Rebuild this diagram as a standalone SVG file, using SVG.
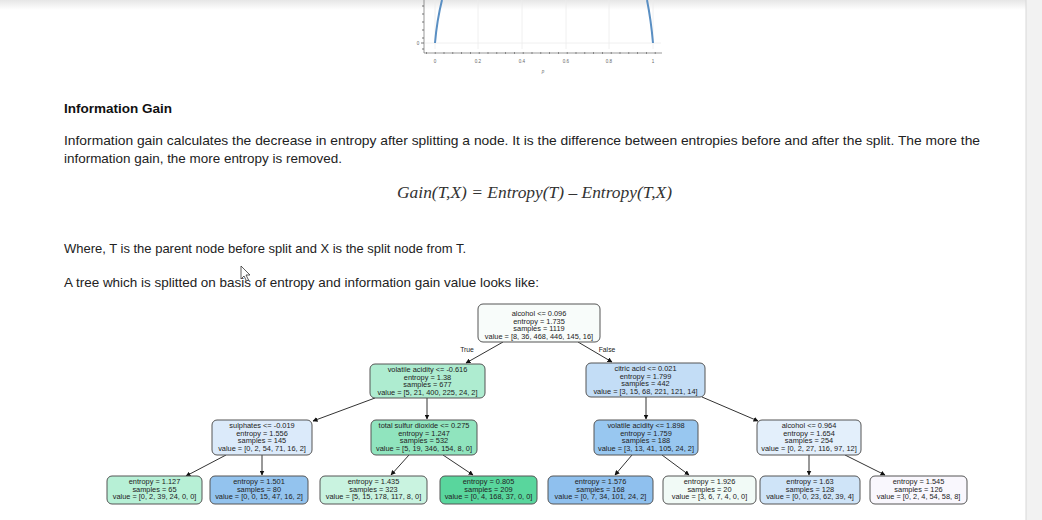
<svg xmlns="http://www.w3.org/2000/svg" width="1042" height="520" viewBox="0 0 1042 520">
<defs>
<linearGradient id="topshade" x1="0" y1="0" x2="0" y2="1"><stop offset="0" stop-color="#e6e6e6"/><stop offset="1" stop-color="#ffffff"/></linearGradient>
<marker id="ah" viewBox="0 0 10 10" refX="9" refY="5" markerWidth="5" markerHeight="5" orient="auto"><path d="M0,0 L10,5 L0,10 z" fill="#111"/></marker>
<style>
.body{font-family:"Liberation Sans",Arial,sans-serif;font-size:13px;fill:#222}
.h{font-family:"Liberation Sans",Arial,sans-serif;font-size:13.5px;font-weight:bold;fill:#111}
.f{font-family:"Liberation Serif","Times New Roman",serif;font-style:italic;font-size:16px;fill:#333}
.nb{stroke:#555;stroke-width:1}
.nt{font-family:"Liberation Sans",Arial,sans-serif;font-size:7.4px;fill:#222;text-anchor:middle}
.el{font-family:"Liberation Sans",Arial,sans-serif;font-size:6.8px;fill:#222;text-anchor:middle}
.e{stroke:#333;stroke-width:1;fill:none;marker-end:url(#ah)}
.ax{font-family:"Liberation Sans",Arial,sans-serif;font-size:4.5px;fill:#666;text-anchor:middle}
</style>
</defs>
<rect width="1042" height="520" fill="#ffffff"/>
<rect width="1026" height="10" fill="url(#topshade)"/>
<rect x="1026" y="0" width="16" height="520" fill="#f2f2f2"/>
<line x1="1026" y1="0" x2="1026" y2="520" stroke="#d8d8d8"/>

<g id="chart">
<g stroke="#ececec" stroke-width="0.8">
<line x1="435" y1="0" x2="435" y2="49"/><line x1="478" y1="0" x2="478" y2="49"/><line x1="522" y1="0" x2="522" y2="49"/><line x1="566" y1="0" x2="566" y2="49"/><line x1="609" y1="0" x2="609" y2="49"/><line x1="653" y1="0" x2="653" y2="49"/>
<line x1="425" y1="43" x2="661" y2="43"/>
</g>
<line x1="424" y1="0" x2="424" y2="53" stroke="#555" stroke-width="0.6"/>
<line x1="424" y1="53" x2="662" y2="53" stroke="#555" stroke-width="0.6"/>
<g stroke="#555" stroke-width="0.8">
<line x1="422" y1="6" x2="424" y2="6"/><line x1="422" y1="14" x2="424" y2="14"/><line x1="422" y1="22" x2="424" y2="22"/><line x1="422" y1="30" x2="424" y2="30"/><line x1="422" y1="38" x2="424" y2="38"/><line x1="421" y1="43" x2="424" y2="43"/><line x1="422" y1="49" x2="424" y2="49"/>
</g>
<path d="M426,53 H662" stroke="#555" stroke-width="1.4" stroke-dasharray="0.8 8" fill="none"/>
<text class="ax" x="418" y="45">0</text>
<text class="ax" x="435" y="63">0</text><text class="ax" x="478" y="63">0.2</text><text class="ax" x="522" y="63">0.4</text><text class="ax" x="566" y="63">0.6</text><text class="ax" x="609" y="63">0.8</text><text class="ax" x="653" y="63">1</text>
<text class="ax" x="543" y="73" font-style="italic">p</text>
<path d="M435,43 Q437,20 442,0" stroke="#5a8fc3" stroke-width="2" fill="none"/>
<path d="M647,0 Q651,20 653,43" stroke="#5a8fc3" stroke-width="2" fill="none"/>
</g>

<g id="text">
<text class="h" x="64" y="113">Information Gain</text>
<text class="body" x="64" y="145" textLength="916" lengthAdjust="spacingAndGlyphs">Information gain calculates the decrease in entropy after splitting a node. It is the difference between entropies before and after the split. The more the</text>
<text class="body" x="64" y="163" textLength="278" lengthAdjust="spacingAndGlyphs">information gain, the more entropy is removed.</text>
<text class="f" x="397" y="198" textLength="275" lengthAdjust="spacingAndGlyphs">Gain(T,X) = Entropy(T) – Entropy(T,X)</text>
<text class="body" x="64" y="253" textLength="402" lengthAdjust="spacingAndGlyphs">Where, T is the parent node before split and X is the split node from T.</text>
<text class="body" x="64" y="287" textLength="475" lengthAdjust="spacingAndGlyphs">A tree which is splitted on basis of entropy and information gain value looks like:</text>
</g>

<g id="cursor">
<path d="M241,266 L241,279 L244,276 L246.5,281 L248.5,280 L246,275 L250,275 Z" fill="#fff" stroke="#333" stroke-width="0.8"/>
</g>

<g id="connectors">
<line class="e" x1="503" y1="342" x2="466" y2="363"/>
<line class="e" x1="578" y1="342" x2="612" y2="362"/>
<line class="e" x1="375" y1="398" x2="313" y2="421"/>
<line class="e" x1="427" y1="398" x2="427" y2="419"/>
<line class="e" x1="646" y1="397" x2="646" y2="419"/>
<line class="e" x1="702" y1="397" x2="758" y2="421"/>
<line class="e" x1="226" y1="455" x2="186" y2="476"/>
<line class="e" x1="262" y1="455" x2="262" y2="475"/>
<line class="e" x1="409" y1="455" x2="391" y2="475"/>
<line class="e" x1="443" y1="455" x2="473" y2="475"/>
<line class="e" x1="632" y1="455" x2="615" y2="475"/>
<line class="e" x1="662" y1="455" x2="689" y2="475"/>
<line class="e" x1="809" y1="455" x2="809" y2="475"/>
<line class="e" x1="845" y1="455" x2="885" y2="475"/>
<text class="el" x="467" y="352">True</text>
<text class="el" x="607" y="352">False</text>
</g>

<g id="n0"><rect class="nb" x="478" y="304" width="122" height="38" rx="5" fill="#f8fcfa"/>
<text class="nt" x="539" y="316">alcohol &lt;= 0.096</text><text class="nt" x="539" y="323.5">entropy = 1.735</text><text class="nt" x="539" y="331">samples = 1119</text><text class="nt" x="539" y="338.5">value = [8, 36, 468, 446, 145, 16]</text></g>

<g id="n1"><rect class="nb" x="370" y="364" width="115" height="34" rx="5" fill="#aeecd0"/>
<text class="nt" x="427.5" y="372">volatile acidity &lt;= -0.616</text><text class="nt" x="427.5" y="379.5">entropy = 1.38</text><text class="nt" x="427.5" y="387">samples = 677</text><text class="nt" x="427.5" y="394.5">value = [5, 21, 400, 225, 24, 2]</text></g>

<g id="n2"><rect class="nb" x="586" y="363" width="119" height="34" rx="5" fill="#c3ddf6"/>
<text class="nt" x="645.5" y="371">citric acid &lt;= 0.021</text><text class="nt" x="645.5" y="378.5">entropy = 1.799</text><text class="nt" x="645.5" y="386">samples = 442</text><text class="nt" x="645.5" y="393.5">value = [3, 15, 68, 221, 121, 14]</text></g>

<g id="n3"><rect class="nb" x="212" y="420" width="100" height="35" rx="5" fill="#dbeafa"/>
<text class="nt" x="262" y="428">sulphates &lt;= -0.019</text><text class="nt" x="262" y="435.5">entropy = 1.556</text><text class="nt" x="262" y="443">samples = 145</text><text class="nt" x="262" y="450.5">value = [0, 2, 54, 71, 16, 2]</text></g>

<g id="n4"><rect class="nb" x="371" y="420" width="106" height="35" rx="5" fill="#90e4be"/>
<text class="nt" x="424" y="428">total sulfur dioxide &lt;= 0.275</text><text class="nt" x="424" y="435.5">entropy = 1.247</text><text class="nt" x="424" y="443">samples = 532</text><text class="nt" x="424" y="450.5">value = [5, 19, 346, 154, 8, 0]</text></g>

<g id="n5"><rect class="nb" x="594" y="420" width="104" height="35" rx="5" fill="#98c7f0"/>
<text class="nt" x="646" y="428">volatile acidity &lt;= 1.898</text><text class="nt" x="646" y="435.5">entropy = 1.759</text><text class="nt" x="646" y="443">samples = 188</text><text class="nt" x="646" y="450.5">value = [3, 13, 41, 105, 24, 2]</text></g>

<g id="n6"><rect class="nb" x="757" y="420" width="104" height="35" rx="5" fill="#e3effb"/>
<text class="nt" x="809" y="428">alcohol &lt;= 0.964</text><text class="nt" x="809" y="435.5">entropy = 1.654</text><text class="nt" x="809" y="443">samples = 254</text><text class="nt" x="809" y="450.5">value = [0, 2, 27, 116, 97, 12]</text></g>

<g id="n7"><rect class="nb" x="107" y="476" width="95" height="28" rx="5" fill="#b7f0d6"/>
<text class="nt" x="154.5" y="484">entropy = 1.127</text><text class="nt" x="154.5" y="491.5">samples = 65</text><text class="nt" x="154.5" y="499">value = [0, 2, 39, 24, 0, 0]</text></g>

<g id="n8"><rect class="nb" x="210" y="476" width="98" height="28" rx="5" fill="#93c3ee"/>
<text class="nt" x="259" y="484">entropy = 1.501</text><text class="nt" x="259" y="491.5">samples = 80</text><text class="nt" x="259" y="499">value = [0, 0, 15, 47, 16, 2]</text></g>

<g id="n9"><rect class="nb" x="320" y="476" width="107" height="28" rx="5" fill="#c9f3e0"/>
<text class="nt" x="373.5" y="484">entropy = 1.435</text><text class="nt" x="373.5" y="491.5">samples = 323</text><text class="nt" x="373.5" y="499">value = [5, 15, 178, 117, 8, 0]</text></g>

<g id="n10"><rect class="nb" x="440" y="476" width="97" height="28" rx="5" fill="#59d69d"/>
<text class="nt" x="488.5" y="484">entropy = 0.805</text><text class="nt" x="488.5" y="491.5">samples = 209</text><text class="nt" x="488.5" y="499">value = [0, 4, 168, 37, 0, 0]</text></g>

<g id="n11"><rect class="nb" x="548" y="476" width="105" height="28" rx="5" fill="#8fc0ee"/>
<text class="nt" x="600.5" y="484">entropy = 1.576</text><text class="nt" x="600.5" y="491.5">samples = 168</text><text class="nt" x="600.5" y="499">value = [0, 7, 34, 101, 24, 2]</text></g>

<g id="n12"><rect class="nb" x="663" y="476" width="93" height="28" rx="5" fill="#f1faf6"/>
<text class="nt" x="709.5" y="484">entropy = 1.926</text><text class="nt" x="709.5" y="491.5">samples = 20</text><text class="nt" x="709.5" y="499">value = [3, 6, 7, 4, 0, 0]</text></g>

<g id="n13"><rect class="nb" x="760" y="476" width="100" height="28" rx="5" fill="#cfe4f8"/>
<text class="nt" x="810" y="484">entropy = 1.63</text><text class="nt" x="810" y="491.5">samples = 128</text><text class="nt" x="810" y="499">value = [0, 0, 23, 62, 39, 4]</text></g>

<g id="n14"><rect class="nb" x="870" y="476" width="97" height="28" rx="5" fill="#f9f7fd"/>
<text class="nt" x="918.5" y="484">entropy = 1.545</text><text class="nt" x="918.5" y="491.5">samples = 126</text><text class="nt" x="918.5" y="499">value = [0, 2, 4, 54, 58, 8]</text></g>
</svg>
